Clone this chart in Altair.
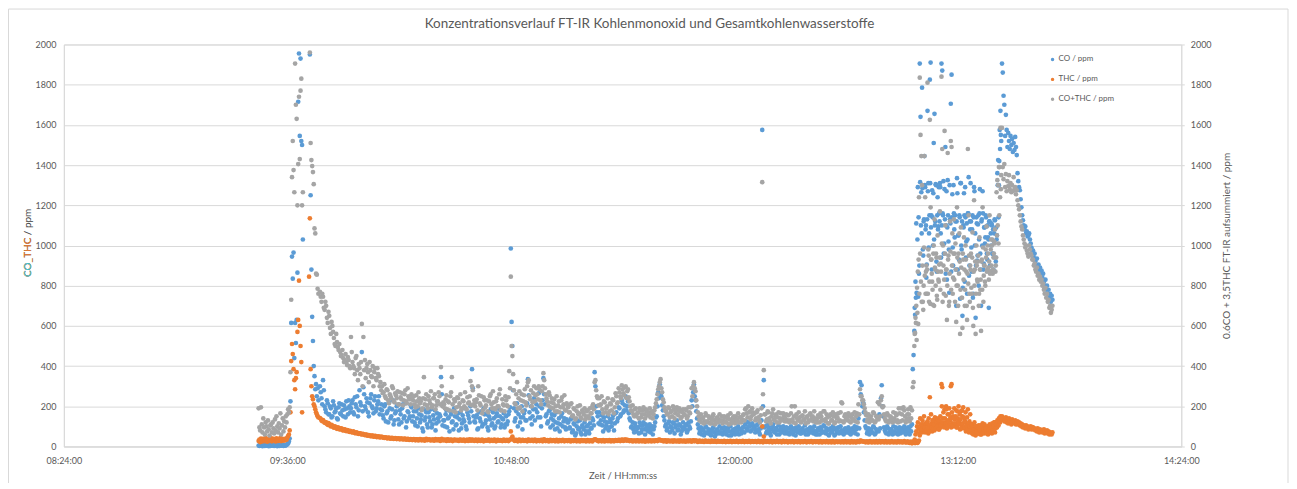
import altair as alt
import pandas as pd

# ---------------- text ----------------
TITLE = "Konzentrationsverlauf FT-IR Kohlenmonoxid und Gesamtkohlenwasserstoffe"
X_TITLE = "Zeit / HH:mm:ss"
Y_RIGHT_TITLE = "0.6CO + 3,5THC FT-IR aufsummiert / ppm"
Y_LEFT_PARTS = ["CO", "_THC", " / ppm"]
Y_LEFT_COLORS = ["#3CC6D4", "#ED7D31", "#404040"]
SERIES = ["CO / ppm", "THC / ppm", "CO+THC / ppm"]
COLORS = ["#5B9BD5", "#ED7D31", "#A5A5A5"]

# x axis: minutes after midnight
X_TICKS = [504, 576, 648, 720, 792, 864]
X_LABELS = ["08:24:00", "09:36:00", "10:48:00", "12:00:00", "13:12:00", "14:24:00"]
Y_TICKS = [0, 200, 400, 600, 800, 1000, 1200, 1400, 1600, 1800, 2000]

# ---------------- data ----------------
# segment A: 09:26:45 .. 09:36:45, every 15 s
A_T0, A_DT = 566.75, 0.25
CO_A = [5,3,8,4,6,2,7,5,3,9,4,6,5,2,8,3,6,4,7,5,3,6,8,4,2,5,7,3,6,4,9,5,3,7,4,6,8,12,15,25,40]
THC_A = [28,35,22,40,30,25,38,32,27,42,30,24,36,33,28,45,31,26,39,34,29,37,25,41,32,28,35,30,43,27,33,38,29,36,31,40,34,45,52,60,80]
SUM_A = [190,95,80,195,110,70,140,95,60,120,100,75,130,85,55,105,110,70,120,90,65,135,80,150,100,70,115,90,165,60,105,140,75,125,95,150,120,160,185,170,195]

# segment B: peak 09:37 .. 09:46, every 15 s (None = no sample)
B_T0, B_DT = 577.0, 0.25
CO_B = [225,615,945,835,965,440,615,515,630,865,1715,1955,1545,1930,1520,1500,1030,
        None,None,None,None,None,None,None,None,
        1950,1250,880,645,525,400,350,285,310,250,290,230]
THC_B = [170,425,510,460,385,330,285,340,370,570,630,825,600,500,420,170,
         None,None,None,None,None,None,None,None,
         845,1135,385,300,250,235,210,200,185,170,160,150,145]
SUM_B = [370,730,1340,1520,1375,1265,1905,1700,1630,1200,1405,1740,1430,1770,1830,1200,1265,
         None,None,None,None,None,None,None,None,
         1960,1510,1425,1395,1365,1305,1085,1060,860,855,785,760]

# segment C: 09:46:30 .. 12:56, samples on the full minute and half minute
C_T0, C_DT = 586.5, 0.5
CO_C = [
    300,240,330,200,170,215,160,190,150,205,175,140,195,165,210,150,185,225,160,200,
    190,230,160,210,250,180,220,470,295,200,240,170,215,260,190,230,175,210,250,185,
    180,140,210,165,120,190,150,230,130,175,205,110,160,190,140,215,125,170,150,195,
    150,120,175,100,160,135,90,185,145,110,170,125,95,155,180,115,140,160,345,105,
    130,160,95,145,175,120,85,150,110,165,135,90,155,125,100,170,140,200,385,150,
    120,155,90,140,175,110,160,130,95,150,185,115,140,100,165,125,150,110,135,95,
    150,125,175,985,500,190,140,215,160,120,200,145,180,130,335,170,200,150,240,185,
    170,265,145,190,340,210,160,125,180,140,105,155,120,90,140,110,165,125,95,135,
    120,95,140,80,110,65,125,90,70,105,85,60,100,75,115,90,130,370,200,150,
    170,130,105,145,90,120,80,135,100,155,115,170,140,190,160,215,180,250,200,165,
    130,100,85,115,75,95,120,70,105,85,110,80,95,70,100,85,120,150,270,310,
    250,180,130,110,90,125,100,80,115,95,130,85,105,75,120,90,110,80,100,125,
    200,310,230,140,90,75,60,85,70,95,65,80,55,90,70,60,85,75,65,90,
    70,85,60,95,75,55,80,65,90,70,60,85,75,95,110,90,120,100,80,105,
    95,80,110,70,90,1575,330,100,75,95,65,85,110,70,90,80,60,95,75,85,
    80,65,90,70,85,60,75,95,70,80,65,90,75,60,85,70,95,80,65,75,
    75,90,60,85,70,100,65,80,55,90,70,85,60,75,95,70,80,65,85,70,
    70,85,60,90,75,65,95,140,320,305,220,130,90,75,60,85,70,95,65,80,
    75,90,305,150,80,65,90,70,85,60,75,95,70,80,65,90,75,85,70,95,
]
THC_C = [
    142,130,131,118,120,108,112,100,103,94,98,88,93,85,89,80,85,77,81,73,
    74,70,72,66,68,63,65,60,62,57,59,55,56,52,54,50,52,48,50,47,
    46,44,45,42,43,41,42,40,41,39,40,38,39,38,37,38,36,37,36,35,
    35,34,36,33,35,34,33,35,34,33,34,32,33,34,32,33,34,32,36,33,
    33,32,34,31,33,32,31,33,32,31,33,32,30,32,31,33,32,31,34,31,
    32,31,33,30,32,31,30,32,31,33,31,30,32,31,30,32,31,30,31,30,
    30,31,32,75,50,34,31,30,32,31,30,32,31,30,33,31,30,32,31,30,
    30,31,30,32,33,31,30,29,31,30,29,31,30,29,30,31,29,30,29,30,
    29,30,28,30,29,28,30,29,28,30,29,28,29,30,28,29,31,34,32,30,
    30,29,30,28,29,30,28,29,30,29,30,31,30,32,31,33,32,34,33,31,
    30,29,28,29,28,29,28,29,28,29,28,29,28,29,28,29,30,31,32,33,
    31,30,29,28,29,28,27,28,29,28,27,28,29,28,27,28,27,28,29,28,
    28,30,29,27,26,27,26,25,27,26,25,26,27,25,26,25,27,26,25,26,
    26,25,26,24,25,26,24,25,26,25,24,26,25,24,26,25,26,25,24,25,
    25,24,26,25,24,100,50,26,25,24,25,26,24,25,26,24,25,26,24,25,
    25,24,23,25,24,23,24,25,23,24,25,23,24,25,23,24,25,24,23,24,
    24,23,25,24,23,24,22,24,23,25,24,23,22,24,23,24,23,25,24,23,
    24,23,22,24,23,22,24,26,28,27,25,24,23,22,24,23,22,24,23,22,
    23,22,26,24,23,22,23,22,24,23,22,23,22,24,23,22,23,22,21,22,
]
SUM_C = [
    770,720,745,680,700,615,650,560,600,540,500,520,480,470,455,440,430,420,445,400,
    545,420,390,440,380,410,360,610,545,430,390,370,420,350,400,370,340,390,350,320,
    300,270,250,285,230,260,240,290,220,255,275,210,245,265,230,280,215,250,235,260,
    230,210,255,200,240,225,190,345,235,205,250,215,195,240,260,205,225,250,395,200,
    210,235,185,220,250,345,175,225,195,240,215,180,230,200,190,245,220,325,300,210,
    200,235,300,215,250,180,230,205,175,225,260,190,220,185,240,200,285,180,210,175,
    230,200,375,845,450,280,210,320,240,195,260,225,285,205,320,250,280,220,300,255,
    260,300,230,275,365,290,240,205,255,220,190,235,200,175,225,195,245,210,180,215,
    195,170,215,155,185,140,200,165,145,180,160,135,175,150,190,165,210,320,280,240,
    240,210,185,225,170,200,160,215,180,230,195,250,220,270,240,285,255,300,275,245,
    200,175,160,185,150,170,190,145,180,160,185,155,170,145,175,160,195,235,285,320,
    290,235,195,175,160,190,170,150,185,165,195,155,175,145,185,160,180,150,170,195,
    250,320,275,200,150,135,120,145,125,155,120,140,115,150,130,120,145,135,125,150,
    130,145,120,155,135,115,140,125,150,130,120,145,135,160,185,165,200,175,150,170,
    165,140,180,130,155,1315,380,160,135,170,125,150,185,130,160,145,120,165,135,150,
    140,125,155,130,200,120,200,160,130,145,120,155,135,115,150,130,165,145,125,140,
    135,155,120,150,130,175,125,145,115,160,130,150,120,140,165,130,220,125,150,135,
    130,150,120,160,135,125,165,210,285,250,230,190,155,135,120,150,130,165,125,145,
    135,150,250,200,140,125,155,130,145,120,140,165,130,190,125,160,195,150,135,185,
]

# segment C2: the samples in between (09:46:45 .. 12:56:15)
C2_T0, C2_DT = 586.75, 0.5
CO_C2 = [
    270,210,280,185,230,160,200,145,225,170,190,135,215,160,180,205,145,190,230,170,
    215,170,245,195,150,280,205,175,260,185,220,150,240,200,165,250,190,225,160,210,
    155,200,125,175,220,140,185,110,165,200,135,180,120,210,150,95,175,140,205,125,
    175,105,140,190,120,155,75,130,170,95,145,185,110,135,80,165,125,150,260,130,
    100,180,140,75,160,125,190,105,145,80,170,115,135,190,85,155,120,175,290,125,
    145,85,170,125,100,190,115,160,80,135,105,170,90,150,120,185,95,140,165,110,
    110,160,195,620,280,125,175,100,190,145,85,165,130,215,255,140,110,185,130,210,
    145,200,100,230,260,150,115,175,95,160,130,85,170,115,75,150,100,140,85,120,
    90,135,70,115,55,100,85,130,60,95,120,75,105,65,90,140,105,300,170,115,
    110,155,75,125,105,150,95,120,140,80,165,125,195,150,230,170,205,180,225,140,
    95,120,70,100,90,65,105,85,120,60,95,75,110,85,60,100,145,200,240,260,
    205,150,100,80,115,70,95,120,65,105,80,110,60,95,85,105,70,120,90,230,
    270,250,175,110,65,95,80,55,100,70,85,60,75,95,50,80,65,100,70,60,
    95,65,80,55,100,70,85,60,75,100,85,65,95,70,125,80,100,75,115,90,
    70,105,85,60,130,200,95,65,110,80,55,100,75,90,60,105,80,70,100,65,
    95,70,60,100,75,90,55,80,100,65,85,70,105,80,60,90,70,85,100,60,
    60,80,95,70,105,75,90,60,85,70,100,55,90,80,65,100,75,60,90,80,
    95,65,80,70,100,85,60,90,260,200,170,100,65,90,80,70,100,60,85,150,
    160,240,200,95,70,100,60,85,75,100,65,90,60,95,80,70,100,60,85,75,
]
THC_C2 = [
    138,126,124,122,112,116,104,108,97,100,91,95,86,90,82,86,78,82,75,78,
    71,75,67,70,64,66,61,63,58,60,54,57,51,55,49,53,47,51,45,49,
    47,43,46,41,44,39,43,38,42,37,41,36,40,35,39,34,38,33,37,32,
    37,31,36,30,37,31,35,29,38,32,36,30,35,29,37,31,36,28,38,30,
    35,28,36,29,34,27,35,30,33,28,35,29,34,27,33,28,36,29,33,28,
    34,27,33,28,35,26,32,29,34,27,33,28,34,26,33,29,32,27,34,28,
    33,27,34,40,35,28,33,26,34,27,33,28,32,26,35,28,33,27,34,26,
    32,27,33,26,36,27,32,25,33,27,32,26,33,25,32,27,33,26,31,27,
    32,25,31,27,32,26,31,25,32,27,31,25,32,26,31,25,33,36,31,26,
    31,26,32,25,31,27,32,25,31,26,32,28,33,27,34,28,35,29,32,27,
    31,25,30,26,31,25,30,26,31,24,30,26,31,25,30,26,31,27,34,30,
    30,25,31,24,30,26,29,24,30,25,29,24,30,25,29,24,30,25,29,24,
    31,26,29,23,29,24,28,23,29,24,28,23,29,24,28,23,28,24,27,23,
    28,22,27,23,28,22,27,23,28,22,27,23,28,22,27,23,28,22,27,23,
    27,22,28,22,27,21,28,23,27,22,28,21,27,22,28,22,27,21,28,22,
    27,21,26,22,27,21,26,22,27,21,26,22,27,21,26,22,27,21,26,22,
    26,21,27,20,26,22,27,21,26,20,27,21,26,22,25,21,26,20,27,21,
    26,20,27,21,26,20,27,22,29,26,25,21,26,20,27,21,26,20,27,21,
    27,21,26,20,27,21,26,20,27,21,26,20,27,21,26,20,27,21,26,20,
]
SUM_C2 = [
    745,760,690,720,640,670,590,620,570,510,560,495,510,450,480,420,460,405,430,390,
    470,400,360,450,330,390,420,300,380,340,410,320,380,345,300,390,330,360,300,280,
    265,310,240,280,215,250,300,225,265,240,210,270,235,205,260,225,290,240,210,245,
    250,195,225,270,215,180,240,210,260,190,230,275,205,240,185,225,270,210,300,220,
    190,255,225,180,270,210,235,170,245,200,260,190,225,270,185,215,250,205,280,230,
    220,180,255,205,165,245,195,230,170,250,210,275,190,225,200,260,180,235,205,250,
    205,245,290,500,360,215,260,190,275,230,175,255,220,300,330,235,200,265,225,290,
    235,285,210,300,330,260,225,270,195,240,215,175,250,205,170,230,195,255,180,205,
    170,210,150,190,135,175,160,205,140,170,190,150,180,140,165,200,185,330,250,205,
    205,250,165,220,190,240,175,210,235,165,265,215,290,250,305,265,295,240,285,225,
    180,205,150,190,165,140,180,160,195,140,175,155,190,165,140,180,215,260,300,335,
    270,220,180,160,195,145,175,200,140,180,160,190,140,170,155,185,140,195,165,290,
    300,290,230,170,130,160,140,115,165,125,150,115,135,160,110,140,120,160,130,115,
    150,120,140,110,165,125,150,115,135,165,145,120,155,130,190,145,170,135,190,160,
    130,170,145,120,190,260,160,125,175,140,115,165,135,150,120,170,140,130,165,125,
    160,130,120,165,135,150,115,140,170,125,150,130,175,145,120,160,130,150,175,120,
    120,145,165,130,175,135,160,115,150,130,170,115,160,145,125,170,215,120,160,145,
    165,125,145,130,170,150,120,160,250,230,210,170,125,160,145,130,170,120,150,220,
    210,230,195,160,130,165,120,150,135,170,125,155,120,165,190,130,180,120,160,140,
]

# segment D: 12:56:15 .. 13:42:30, every 15 s
D_T0, D_DT = 776.25, 0.25
CO_D = [
    85,60,100,75,110,385,455,575,655,740,765,1030,745,860,1905,1640,1265,1785,980,1120,
    1445,1290,1100,905,1670,1310,1060,1825,1910,1150,1275,1000,1510,1655,1120,1300,870,1240,1095,1160,
    1310,1060,1905,1870,1150,960,1280,1490,1100,830,1325,1020,765,1130,1705,1850,1255,900,1160,1040,
    1120,700,1335,880,1050,1150,735,1310,980,650,1100,1260,820,1140,1020,760,1160,1340,900,1080,
    1120,870,1150,760,1290,1000,640,1140,925,1105,800,1160,960,700,1130,1270,880,1090,1010,1150,
    1095,930,1040,690,1120,870,1000,1100,960,880,1060,1125,920,1030,1360,1425,1300,1575,1670,1520,
    1905,1860,1745,1700,1545,1650,1575,1490,1560,1520,1480,1545,1500,1530,1465,1510,1475,1540,1490,1450,
    1360,1320,1290,1275,1230,1190,1150,1125,1100,1080,1095,1060,1070,1045,1050,1060,1030,1010,990,975,
    975,940,960,920,900,935,880,905,870,890,860,875,840,860,820,800,830,780,800,760,
    780,740,760,720,750,730,
]
THC_D = [
    22,18,25,20,16,24,19,22,17,21,25,18,23,30,55,80,95,70,110,85,
    95,70,110,85,125,65,100,245,90,115,75,130,95,80,120,105,140,90,110,85,
    120,95,310,295,140,105,185,120,200,90,160,110,190,130,300,310,115,150,100,135,
    110,180,95,140,200,120,85,175,105,150,195,90,130,170,100,145,185,95,125,160,
    90,70,110,60,95,75,55,100,80,65,105,85,60,90,70,115,80,65,95,75,
    70,95,60,85,110,75,90,65,100,80,120,70,95,110,130,115,140,125,150,135,
    150,135,140,125,130,145,120,135,115,140,125,130,110,135,120,125,115,130,110,120,
    125,110,120,105,115,100,110,95,105,100,90,105,95,100,85,95,90,100,85,95,
    95,85,90,80,85,75,90,80,70,85,75,80,70,75,85,65,75,70,80,65,
    75,60,70,65,60,70,
]
SUM_D = [
    160,125,195,140,180,295,320,500,565,615,530,665,610,1240,1835,1550,1445,1300,720,800,
    1445,1240,870,760,1810,980,720,1625,1190,930,820,705,1000,1130,880,960,750,1050,830,905,
    1170,910,1840,1480,1000,760,1570,1100,880,630,1460,950,720,1120,1520,1490,1060,840,1130,960,
    1010,620,1190,800,960,1060,560,1090,740,590,930,1040,700,1000,870,630,1480,1150,760,900,
    960,760,1065,600,1225,880,560,1000,830,920,700,1040,780,575,930,1190,720,900,820,980,
    1095,880,960,830,1150,870,1030,1000,860,940,1020,1080,900,1265,1325,1300,1390,1390,1585,1350,
    1585,1390,1330,1405,1290,1355,1270,1320,1295,1350,1280,1310,1265,1300,1270,1340,1280,1290,1255,1275,
    1225,1200,1180,1150,1120,1095,1080,1050,1030,1010,990,1000,975,960,945,1000,980,960,950,930,
    930,900,910,880,870,890,850,860,830,845,820,830,800,810,780,760,790,740,760,720,
    730,690,700,665,680,700,
]

# segment D2: the samples in between inside the 13:00 .. 13:26 cloud
D2_T0, D2_DT = 778.125, 0.25
CO_D2 = [
    690,820,1110,760,1290,1140,900,1315,1100,1060,1285,950,1130,1300,1080,840,
    1130,1270,990,1150,1310,1090,880,1140,1260,1030,1100,1305,920,1150,1080,1290,
    1120,1290,940,1100,1160,1320,1010,1130,860,1270,1090,1150,980,1300,1110,870,
    1140,990,1300,1080,1150,880,1120,1260,1050,930,1140,1310,1000,1120,790,1090,
    1150,1290,940,1110,1030,1160,850,1120,1310,990,1080,740,1140,1270,1060,900,
    1110,950,1150,1030,1280,880,1120,1000,1160,910,1090,1040,1140,960,1100,1030,
    1120,900,1060,1110,960,1080,1020,1130,940,1090,1050,1300,1140,1420,1480,1550,
]
THC_D2 = [
    35,60,75,100,120,90,65,140,110,85,130,100,150,95,115,80,
    120,90,140,75,105,160,95,130,85,110,145,90,125,100,135,85,
    130,150,105,200,120,170,95,140,115,185,100,130,160,110,145,95,
    170,105,140,190,115,150,95,175,125,110,160,135,90,180,115,145,
    95,120,75,105,85,115,70,100,80,110,65,95,85,120,70,100,
    75,100,65,90,80,105,60,95,70,85,110,75,90,65,100,80,
    85,105,75,95,115,80,100,120,90,110,95,125,105,130,120,140,
]
SUM_D2 = [
    560,640,700,790,870,930,760,960,820,720,900,680,990,850,760,900,
    880,760,950,820,710,930,860,780,960,700,890,800,940,730,870,820,
    940,780,870,1010,720,900,830,960,750,880,800,930,700,860,970,780,
    900,760,960,830,720,880,800,940,700,860,920,780,890,740,960,830,
    880,780,930,700,860,810,950,720,880,790,940,690,870,800,920,760,
    900,820,950,760,880,830,920,780,990,850,900,800,940,870,1000,890,
    920,860,980,900,1030,880,960,1010,870,940,1050,1100,1010,1150,1240,1280,
]

SEGMENTS = [
    (A_T0, A_DT, CO_A, THC_A, SUM_A),
    (B_T0, B_DT, CO_B, THC_B, SUM_B),
    (C_T0, C_DT, CO_C, THC_C, SUM_C),
    (C2_T0, C2_DT, CO_C2, THC_C2, SUM_C2),
    (D_T0, D_DT, CO_D, THC_D, SUM_D),
    (D2_T0, D2_DT, CO_D2, THC_D2, SUM_D2),
]

# ---------------- build tables ----------------
rows_left, rows_right = [], []
for k, name in enumerate(SERIES):
    for t0, dt, co, thc, sm in SEGMENTS:
        assert len(co) == len(thc) == len(sm), (t0, len(co), len(thc), len(sm))
        vals = [co, thc, sm][k]
        for i, v in enumerate(vals):
            if v is None:
                continue
            rec = {"t": t0 + i * dt, "v": v, "series": name, "k": k}
            (rows_right if k == 2 else rows_left).append(rec)
df_left = pd.DataFrame(rows_left)
df_right = pd.DataFrame(rows_right)

label_expr = "''"
for val, lab in reversed(list(zip(X_TICKS, X_LABELS))):
    label_expr = f"datum.value == {val} ? '{lab}' : ({label_expr})"

GRID = "#d9d9d9"
TXT = "#595959"
FONT = "Lato"
W, H = 1120, 403
PT = 22

color = alt.Color(
    "series:N",
    scale=alt.Scale(domain=SERIES, range=COLORS),
    legend=alt.Legend(
        title=None, orient="none", legendX=987, legendY=11,
        symbolType="circle", symbolSize=12, symbolStrokeWidth=0,
        labelFont=FONT, labelFontSize=8, labelColor=TXT, labelOffset=2,
        rowPadding=12, padding=0,
    ),
)

x_enc = alt.X(
    "t:Q",
    scale=alt.Scale(domain=[X_TICKS[0], X_TICKS[-1]], nice=False, zero=False),
    axis=alt.Axis(
        values=X_TICKS, labelExpr=label_expr, title=X_TITLE, grid=False,
        ticks=False, tickSize=0, labelPadding=10, domainColor=GRID,
        labelFont=FONT, labelFontSize=9, labelColor=TXT,
        titleFont=FONT, titleFontSize=9.5, titleFontWeight="normal", titleColor=TXT,
        titleX=W / 2, titleY=29, titleAlign="center", titleBaseline="middle",
        labelFlush=False,
    ),
)

ysc = alt.Scale(domain=[0, 2000], nice=False, zero=True)

left = alt.Chart(df_left).mark_circle(size=PT, opacity=1).encode(
    x=x_enc,
    y=alt.Y("v:Q", scale=ysc, axis=alt.Axis(
        values=Y_TICKS, format="d", orient="left", title=None, grid=True, gridColor=GRID,
        ticks=False, tickSize=0, labelPadding=8, domainColor=GRID,
        labelFont=FONT, labelFontSize=9, labelColor=TXT)),
    color=color,
)

right = alt.Chart(df_right).mark_circle(size=PT, opacity=1).encode(
    x=alt.X("t:Q"),
    y=alt.Y("v:Q", scale=ysc, axis=alt.Axis(
        values=Y_TICKS, format="d", orient="right", title=Y_RIGHT_TITLE, grid=False,
        ticks=True, tickSize=3, tickColor=GRID, labelPadding=6, domainColor=GRID,
        labelFont=FONT, labelFontSize=9, labelColor=TXT,
        titleFont=FONT, titleFontSize=10, titleFontWeight="normal", titleColor=TXT,
        titleAngle=270, titleX=45, titleY=H / 2, titleAlign="center",
        titleBaseline="middle")),
    color=color,
)

one = alt.Data(values=[{"a": 1}])

title_mark = alt.Chart(one).mark_text(
    text=TITLE, font=FONT, fontSize=13.5, color=TXT, align="center", baseline="middle"
).encode(x=alt.value(587), y=alt.value(-21))

# left axis title in three colours: overlay successively shorter prefixes
left_titles = []
for n in range(len(Y_LEFT_PARTS), 0, -1):
    left_titles.append(
        alt.Chart(one).mark_text(
            text="".join(Y_LEFT_PARTS[:n]), font=FONT, fontSize=10,
            color=Y_LEFT_COLORS[n - 1], align="left", baseline="middle", angle=270,
        ).encode(x=alt.value(-36), y=alt.value(233))
    )

frame = alt.Chart(one).mark_rect(
    fillOpacity=0, stroke=GRID, strokeWidth=1
).encode(x=alt.value(-55.5), x2=alt.value(1227), y=alt.value(-35.5), y2=alt.value(480))

chart = alt.layer(frame, left, right, title_mark, *left_titles).resolve_scale(
    y="independent"
).properties(
    width=W, height=H,
    autosize=alt.AutoSizeParams(type="none"),
    padding={"left": 56, "top": 36, "right": 108, "bottom": 36},
    background="white",
).configure_view(strokeWidth=0).configure(font=FONT)

chart.save("out.html", embed_options={"renderer": "svg", "actions": False})
